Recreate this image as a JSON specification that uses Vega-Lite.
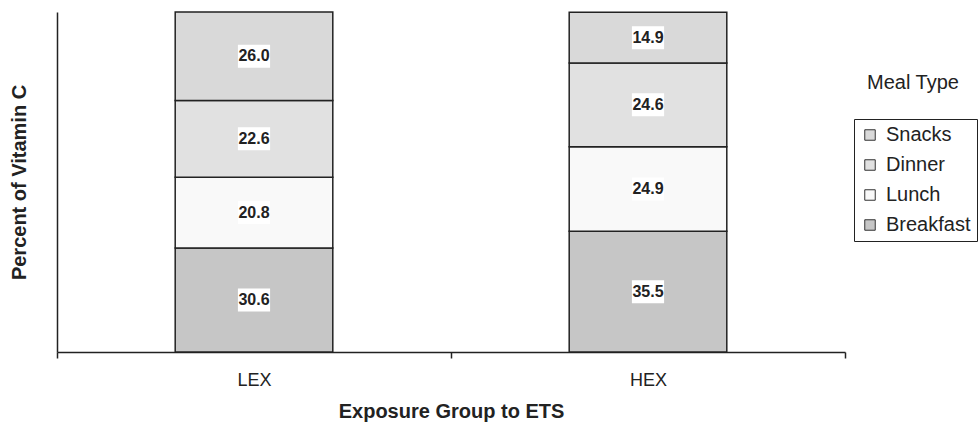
{
  "$schema": "https://vega.github.io/schema/vega-lite/v6.json",
  "autosize": "none",
  "width": 788,
  "height": 340,
  "padding": {"left": 57, "top": 12, "right": 134, "bottom": 73},
  "background": "white",
  "config": {
    "font": "Liberation Sans",
    "view": {"stroke": null}
  },
  "title": {
    "text": "Meal Type",
    "orient": "top",
    "anchor": "start",
    "frame": "group",
    "offset": 0,
    "baseline": "middle",
    "dx": 810,
    "dy": 92,
    "fontSize": 20,
    "fontWeight": "normal",
    "color": "#222"
  },
  "data": {
    "values": [
      {"group": "LEX", "meal": "Breakfast", "order": 1, "value": 30.6},
      {"group": "LEX", "meal": "Lunch", "order": 2, "value": 20.8},
      {"group": "LEX", "meal": "Dinner", "order": 3, "value": 22.6},
      {"group": "LEX", "meal": "Snacks", "order": 4, "value": 26.0},
      {"group": "HEX", "meal": "Breakfast", "order": 1, "value": 35.5},
      {"group": "HEX", "meal": "Lunch", "order": 2, "value": 24.9},
      {"group": "HEX", "meal": "Dinner", "order": 3, "value": 24.6},
      {"group": "HEX", "meal": "Snacks", "order": 4, "value": 14.9}
    ]
  },
  "transform": [
    {"stack": "value", "groupby": ["group"], "sort": [{"field": "order", "order": "ascending"}], "as": ["y0", "y1"]},
    {"calculate": "(datum.y0 + datum.y1) / 2", "as": "mid"}
  ],
  "encoding": {
    "x": {
      "field": "group",
      "type": "nominal",
      "sort": ["LEX", "HEX"],
      "scale": {"paddingInner": 0, "paddingOuter": 0},
      "axis": {
        "title": "Exposure Group to ETS",
        "titleFontSize": 20,
        "titleFontWeight": "bold",
        "titleColor": "#222",
        "titlePadding": 12,
        "labelFontSize": 18,
        "labelColor": "#222",
        "labelAngle": 0,
        "labelPadding": 13,
        "tickBand": "extent",
        "tickSize": 6,
        "tickColor": "#222",
        "tickWidth": 1.5,
        "domainColor": "#222",
        "domainWidth": 1.5,
        "grid": false
      }
    }
  },
  "layer": [
    {
      "mark": {"type": "bar", "stroke": "#222", "strokeWidth": 1.5, "width": {"band": 0.4}},
      "encoding": {
        "y": {
          "field": "y0",
          "type": "quantitative",
          "scale": {"domain": [0, 100], "nice": false},
          "axis": {
            "title": "Percent of Vitamin C",
            "titleFontSize": 20,
            "titleFontWeight": "bold",
            "titleColor": "#222",
            "titlePadding": 28,
            "labels": false,
            "ticks": false,
            "grid": false,
            "domainColor": "#222",
            "domainWidth": 1.5
          }
        },
        "y2": {"field": "y1"},
        "color": {
          "field": "meal",
          "type": "nominal",
          "scale": {
            "domain": ["Snacks", "Dinner", "Lunch", "Breakfast"],
            "range": ["#d9d9d9", "#e1e1e1", "#f9f9f9", "#c6c6c6"]
          },
          "legend": {
            "title": null,
            "orient": "none",
            "legendX": 797,
            "legendY": 107,
            "strokeColor": "#222",
            "padding": 6,
            "rowPadding": 10,
            "symbolType": "square",
            "symbolSize": 110,
            "symbolStrokeColor": "#333",
            "symbolStrokeWidth": 1,
            "labelFontSize": 20,
            "labelColor": "#222",
            "labelOffset": 6
          }
        }
      }
    },
    {
      "mark": {"type": "point", "shape": "M-1.4,-1H1.4V1H-1.4Z", "filled": true, "fill": "white", "opacity": 1, "strokeWidth": 0, "size": 529},
      "encoding": {
        "y": {"field": "mid", "type": "quantitative"}
      }
    },
    {
      "mark": {"type": "text", "fontSize": 16, "fontWeight": "bold", "color": "#222", "baseline": "middle", "align": "center"},
      "encoding": {
        "y": {"field": "mid", "type": "quantitative"},
        "text": {"field": "value", "type": "quantitative", "format": ".1f"}
      }
    }
  ]
}
